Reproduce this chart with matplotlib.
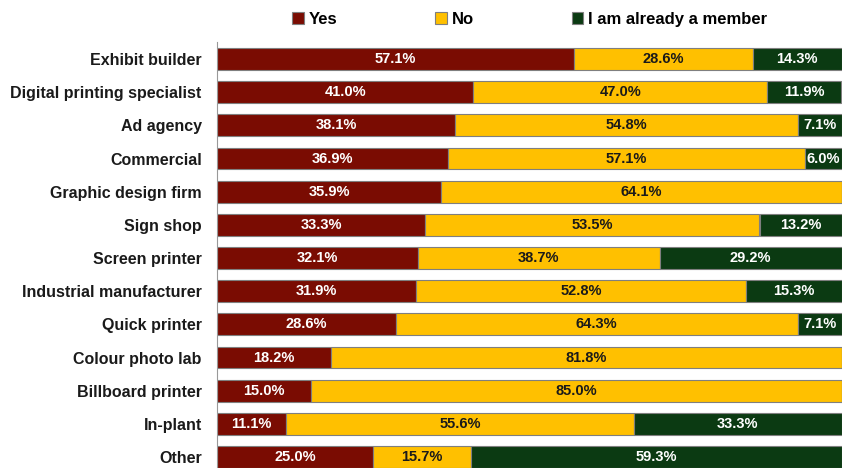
import matplotlib.pyplot as plt
import numpy as np

plt.rcParams['font.family'] = ['Liberation Sans', 'DejaVu Sans']
plt.rcParams['font.weight'] = 'bold'

categories = ['Exhibit builder', 'Digital printing specialist', 'Ad agency', 'Commercial',
              'Graphic design firm', 'Sign shop', 'Screen printer', 'Industrial manufacturer',
              'Quick printer', 'Colour photo lab', 'Billboard printer', 'In-plant', 'Other']
yes = [57.1, 41.0, 38.1, 36.9, 35.9, 33.3, 32.1, 31.9, 28.6, 18.2, 15.0, 11.1, 25.0]
no = [28.6, 47.0, 54.8, 57.1, 64.1, 53.5, 38.7, 52.8, 64.3, 81.8, 85.0, 55.6, 15.7]
member = [14.3, 11.9, 7.1, 6.0, 0.0, 13.2, 29.2, 15.3, 7.1, 0.0, 0.0, 33.3, 59.3]

series = [('Yes', yes, '#7a0c02', 'white'),
          ('No', no, '#ffc000', '#1a1a1a'),
          ('I am already a member', member, '#0b3a12', 'white')]

fig = plt.figure(figsize=(8.56, 4.68), dpi=100)
ax = fig.add_axes([217 / 856, 0.0, (842 - 217) / 856, (468 - 42.4) / 468])

y = np.arange(len(categories))
left = np.zeros(len(categories))
for name, vals, color, tcolor in series:
    vals = np.array(vals)
    bars = ax.barh(y, vals, left=left, height=0.66, color=color,
                   edgecolor='#7f7f7f', linewidth=0.8, label=name)
    for b, v in zip(bars, vals):
        if v > 0:
            ax.text(b.get_x() + b.get_width() / 2, b.get_y() + b.get_height() / 2,
                    f'{v:.1f}%', ha='center', va='center', color=tcolor,
                    fontsize=10.5, fontweight='bold')
    left += vals

ax.set_xlim(0, 100)
ax.set_ylim(12.33, -0.5)
ax.set_yticks(y)
ax.set_yticklabels(categories, fontsize=11.5, fontweight='bold', color='#1a1a1a')
ax.tick_params(axis='y', length=0, pad=11)
ax.set_xticks([])
for s in ['top', 'right', 'bottom']:
    ax.spines[s].set_visible(False)
ax.spines['left'].set_color('#999999')

fig.legend(loc='center', bbox_to_anchor=(0.619, 0.958), ncol=3, frameon=False,
           fontsize=12, handlelength=0.7, handleheight=0.7, handletextpad=0.3,
           columnspacing=5.85)

fig.savefig('out.png', dpi=100)
